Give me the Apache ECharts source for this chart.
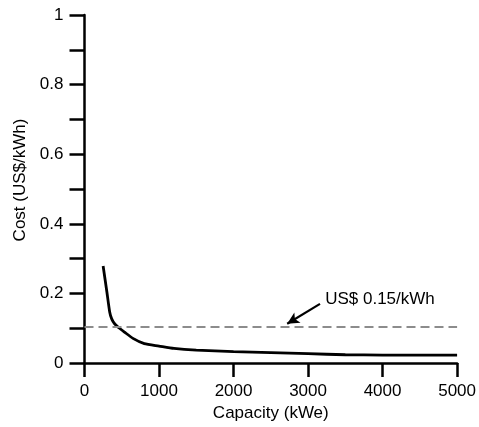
<!DOCTYPE html>
<html>
<head>
<meta charset="utf-8">
<script src="https://cdn.jsdelivr.net/npm/echarts@6/dist/echarts.min.js"></script>
<style>
  html, body { margin: 0; padding: 0; background: #fff; }
  #chart { width: 479px; height: 427px; }
</style>
</head>
<body>
<div id="chart"></div>
<script>
// Levelised generation cost against plant capacity
const capacity = [250, 300, 338, 365, 404, 470, 537, 650, 802, 1000, 1200, 1500, 2000, 2500, 3000, 3500, 4000, 4500, 5000];
const cost     = [0.279, 0.205, 0.147, 0.127, 0.113, 0.100, 0.089, 0.071, 0.056, 0.049, 0.042, 0.037, 0.033, 0.030, 0.027, 0.024, 0.023, 0.023, 0.023];

// Reference level drawn as a dashed line
const refLevel = 0.104;
const refLabel = 'US$ 0.15/kWh';
// Arrow from the label down to the reference line (data coordinates)
const arrowFrom = [3160, 0.170];
const arrowTo   = [2720, 0.113];

const yTicks = [0, 0.2, 0.4, 0.6, 0.8, 1];
const xTicks = [0, 1000, 2000, 3000, 4000, 5000];

const FONT = 'Liberation Sans, Arial, sans-serif';
const chart = echarts.init(document.getElementById('chart'));

const axisStyle = { lineStyle: { color: '#000', width: 2.5 } };

chart.setOption({
  animation: false,
  grid: { left: 84.5, right: 17.5, top: 15, bottom: 61, containLabel: false },
  xAxis: {
    type: 'value', min: 0, max: 5000, interval: 1000,
    name: 'Capacity (kWe)', nameLocation: 'middle', nameGap: 40,
    nameTextStyle: { fontFamily: FONT, fontSize: 17, color: '#000' },
    axisLine: { show: true, onZero: false, ...axisStyle },
    axisTick: { show: true, inside: false, length: 14, ...axisStyle },
    axisLabel: { fontFamily: FONT, fontSize: 17, color: '#000', margin: 20,
      formatter: v => xTicks.includes(v) ? String(v) : '' },
    splitLine: { show: false }
  },
  yAxis: {
    type: 'value', min: 0, max: 1, interval: 0.1,
    axisLine: { show: true, ...axisStyle },
    axisTick: { show: true, inside: false, length: 15, ...axisStyle },
    axisLabel: { fontFamily: FONT, fontSize: 17, color: '#000', margin: 21,
      formatter: v => {
        const r = Math.round(v * 10) / 10;
        return yTicks.some(t => Math.abs(t - r) < 1e-9) ? String(r) : '';
      } },
    splitLine: { show: false }
  },
  series: [{
    type: 'line',
    data: capacity.map((c, i) => [c, cost[i]]),
    smooth: 0.2,
    showSymbol: false,
    lineStyle: { color: '#000', width: 2.8 },
    markLine: {
      silent: true,
      symbol: ['none', 'none'],
      label: { show: false },
      data: [
        [{ coord: [0, refLevel], lineStyle: { color: '#8c8c8c', width: 2, type: [9, 5] } },
         { coord: [5000, refLevel] }],
        [{ coord: arrowFrom, symbol: 'none', lineStyle: { color: '#000', width: 2.2, type: 'solid' } },
         { coord: arrowTo, symbol: 'arrow', symbolSize: [9, 12] }]
      ]
    }
  }]
});

// Axis title and annotation text placed from data positions
const labelPos = chart.convertToPixel({ seriesIndex: 0 }, [arrowFrom[0] + 70, arrowFrom[1] + 0.012]);
chart.setOption({
  graphic: [
    { type: 'text', x: 20, y: 180, rotation: Math.PI / 2,
      style: { text: 'Cost (US$/kWh)', font: '17px ' + FONT, fill: '#000', align: 'center', verticalAlign: 'middle' } },
    { type: 'text', x: labelPos[0], y: labelPos[1],
      style: { text: refLabel, font: '17px ' + FONT, fill: '#000', align: 'left', verticalAlign: 'middle' } }
  ]
});
</script>
</body>
</html>
